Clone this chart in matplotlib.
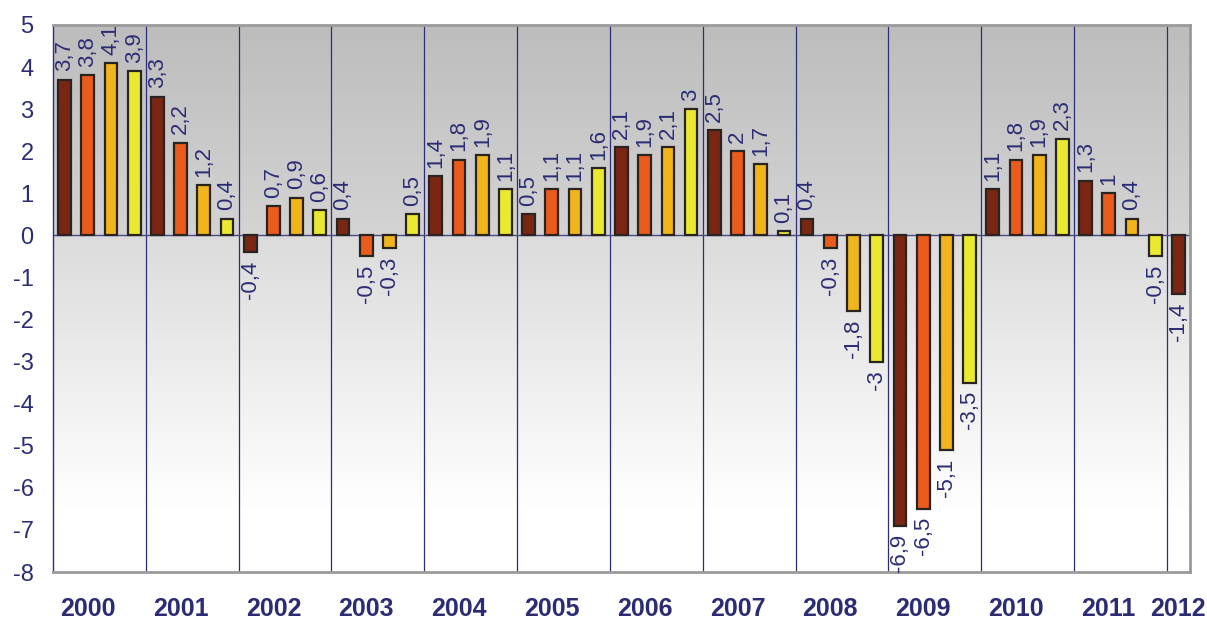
import numpy as np
import matplotlib.pyplot as plt

# quarterly growth, % (last year only has Q1)
years = ['2000', '2001', '2002', '2003', '2004', '2005', '2006',
         '2007', '2008', '2009', '2010', '2011', '2012']
q_values = [
    [3.7, 3.8, 4.1, 3.9],
    [3.3, 2.2, 1.2, 0.4],
    [-0.4, 0.7, 0.9, 0.6],
    [0.4, -0.5, -0.3, 0.5],
    [1.4, 1.8, 1.9, 1.1],
    [0.5, 1.1, 1.1, 1.6],
    [2.1, 1.9, 2.1, 3],
    [2.5, 2, 1.7, 0.1],
    [0.4, -0.3, -1.8, -3],
    [-6.9, -6.5, -5.1, -3.5],
    [1.1, 1.8, 1.9, 2.3],
    [1.3, 1, 0.4, -0.5],
    [-1.4],
]
quarter_colors = ['#7b2613', '#ea5b1c', '#f0b41c', '#e9e932']
text_color = '#2c2c74'

plt.rcParams['font.family'] = ['Liberation Sans', 'DejaVu Sans']

fig = plt.figure(figsize=(12.07, 6.20), dpi=100)
ax = fig.add_axes([0.0439, 0.0774, 0.942, 0.8823])

ymin, ymax = -8, 5
n_total = sum(len(v) for v in q_values)
ax.set_xlim(0, n_total)
ax.set_ylim(ymin, ymax)

# background gradient: grey above zero, fading to white below
ys = np.linspace(ymax, ymin, 400)
cols = []
for y in ys:
    if y >= 0:
        g = 0.74 + (0.83 - 0.74) * (1 - y / ymax)
    else:
        t = min(1.0, y / -6.5)
        g = 0.86 + (1.0 - 0.86) * t
    cols.append([g, g, g])
bg = np.array(cols).reshape(-1, 1, 3)
ax.imshow(bg, extent=[0, n_total, ymin, ymax], aspect='auto', zorder=0,
          interpolation='bilinear')

pos = 0
tick_pos = []
for yi, vals in enumerate(q_values):
    n = len(vals)
    for qi, v in enumerate(vals):
        x = pos + qi + 0.5
        ax.bar(x, v, width=0.55, color=quarter_colors[qi], edgecolor='#2a2420',
               linewidth=1.6, zorder=3)
        lbl = ('%g' % v).replace('.', ',')
        if v >= 0:
            ax.annotate(lbl, (x, v), xytext=(0, 6), textcoords='offset points',
                        rotation=90, ha='center', va='bottom', fontsize=16,
                        color=text_color, zorder=4)
        else:
            ax.annotate(lbl, (x, v), xytext=(0, -6), textcoords='offset points',
                        rotation=90, ha='center', va='top', fontsize=16,
                        color=text_color, zorder=4)
    tick_pos.append(pos + (n / 2 - 0.5 if n > 1 else 0.5))
    pos += n
    if pos < n_total:
        ax.axvline(pos, color='#2e2e78', linewidth=0.9, zorder=2)

ax.axhline(0, color='#4a4a8a', linewidth=1.0, zorder=2)

ax.set_xticks(tick_pos)
ax.set_xticklabels(years, fontsize=18, fontweight='bold', color=text_color)
ax.set_yticks(range(ymin, ymax + 1))
ax.set_yticklabels([str(t) for t in range(ymin, ymax + 1)], fontsize=17, color=text_color)
ax.tick_params(axis='x', length=0, pad=18)
ax.tick_params(axis='y', length=0, pad=14)

for side in ['top', 'right', 'bottom']:
    ax.spines[side].set_color('#9a9a9a')
    ax.spines[side].set_linewidth(2)
ax.spines['left'].set_color('#2e2e78')
ax.spines['left'].set_linewidth(1)

plt.savefig('out.png', dpi=100)
